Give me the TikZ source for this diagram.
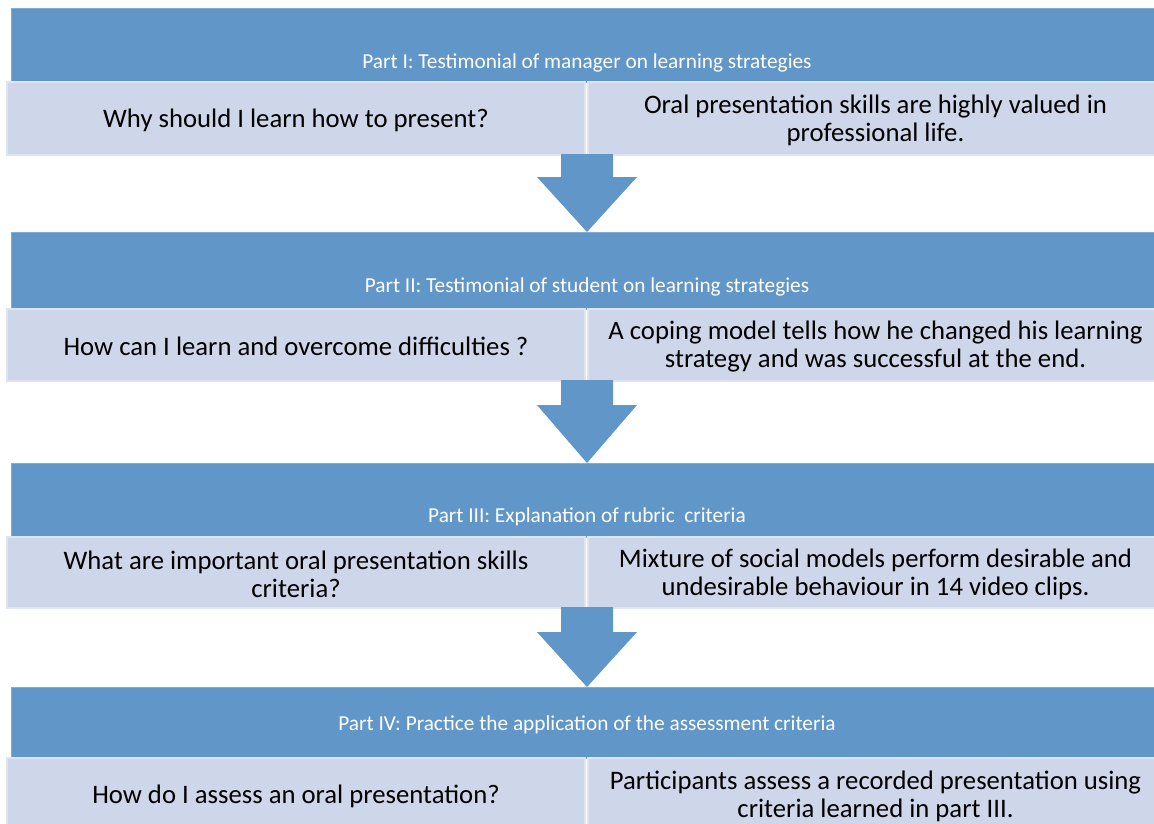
\documentclass[tikz,border=0pt]{standalone}
\usepackage{fontspec}
\setmainfont{Carlito}
\usetikzlibrary{calc}
\definecolor{bandblue}{RGB}{97,150,200}
\definecolor{bandedge}{RGB}{130,172,212}
\definecolor{boxlight}{RGB}{206,214,233}
\definecolor{boxedge}{RGB}{222,228,240}
\newcommand{\flowarrow}[3]{%
  \fill[arrowfill] let \p1=(#1), \p2=(#2) in
    (\x2-26,\y1+1) -- (\x2+26,\y1+1) -- (\x2+26,\y1-#3) -- (\x2+50,\y1-#3)
    -- (\x2,\y2) -- (\x2-50,\y1-#3) -- (\x2-26,\y1-#3) -- cycle;}
\begin{document}
\begin{tikzpicture}[x=1pt,y=-1pt,
  band/.style={fill=bandblue, draw=bandedge, line width=0.8pt, minimum width=1152pt,
    anchor=north west, inner sep=0pt, outer sep=0pt},
  bandtext/.style={text=white, font=\fontsize{21.3}{24}\selectfont, inner sep=0pt, yshift=-2pt},
  qbox/.style={fill=boxlight, draw=boxedge, line width=2pt, anchor=north west,
    inner sep=0pt, outer sep=0pt},
  qtext/.style={font=\fontsize{26.7}{28}\selectfont, align=center, inner sep=0pt, yshift=-1.5pt},
  arrowfill/.style={fill=bandblue}]
\useasboundingbox (0,0) rectangle (1154,823);
\clip (0,0) rectangle (1154,823);
\fill[white] (0,0) rectangle (1154,823);

% Part I
\node[band, minimum height=74pt] (b1) at (11,8) {};
\node[bandtext] (t1) at (587,61) {Part I: Testimonial of manager on learning strategies};
\node[qbox, minimum width=578pt, minimum height=73pt] (l1) at (7,82) {};
\node[qbox, minimum width=575pt, minimum height=73pt] (r1) at (588,82) {};
\node[qtext] (q1) at (l1.center) {Why should I learn how to present?};
\node[qtext] (a1) at (r1.center) {Oral presentation skills are highly valued in\\professional life.};

% Part II
\node[band, minimum height=77pt] (b2) at (11,232) {};
\node[bandtext] (t2) at (587,285) {Part II: Testimonial of student on learning strategies};
\node[qbox, minimum width=578pt, minimum height=72pt] (l2) at (7,309) {};
\node[qbox, minimum width=575pt, minimum height=72pt] (r2) at (588,309) {};
\node[qtext] (q2) at (l2.center) {How can I learn and overcome difficulties ?};
\node[qtext] (a2) at (r2.center) {A coping model tells how he changed his learning\\strategy and was successful at the end.};

% Part III
\node[band, minimum height=74pt] (b3) at (11,463) {};
\node[bandtext] (t3) at (587,515) {Part III: Explanation of rubric\ \ criteria};
\node[qbox, minimum width=578pt, minimum height=71pt] (l3) at (7,537) {};
\node[qbox, minimum width=575pt, minimum height=71pt] (r3) at (588,537) {};
\node[qtext] (q3) at (l3.center) {What are important oral presentation skills\\criteria?};
\node[qtext] (a3) at (r3.center) {Mixture of social models perform desirable and\\undesirable behaviour in 14 video clips.};

% Part IV
\node[band, minimum height=71pt] (b4) at (11,687) {};
\node[bandtext] (t4) at (587,723) {Part IV: Practice the application of the assessment criteria};
\node[qbox, minimum width=578pt, minimum height=74pt] (l4) at (7,758) {};
\node[qbox, minimum width=575pt, minimum height=74pt] (r4) at (588,758) {};
\node[qtext] (q4) at (l4.center) {How do I assess an oral presentation?};
\node[qtext] (a4) at (r4.center) {Participants assess a recorded presentation using\\criteria learned in part III.};

% arrows
\flowarrow{l1.south}{b2.north}{22}
\flowarrow{l2.south}{b3.north}{24}
\flowarrow{l3.south}{b4.north}{24}
\end{tikzpicture}
\end{document}
